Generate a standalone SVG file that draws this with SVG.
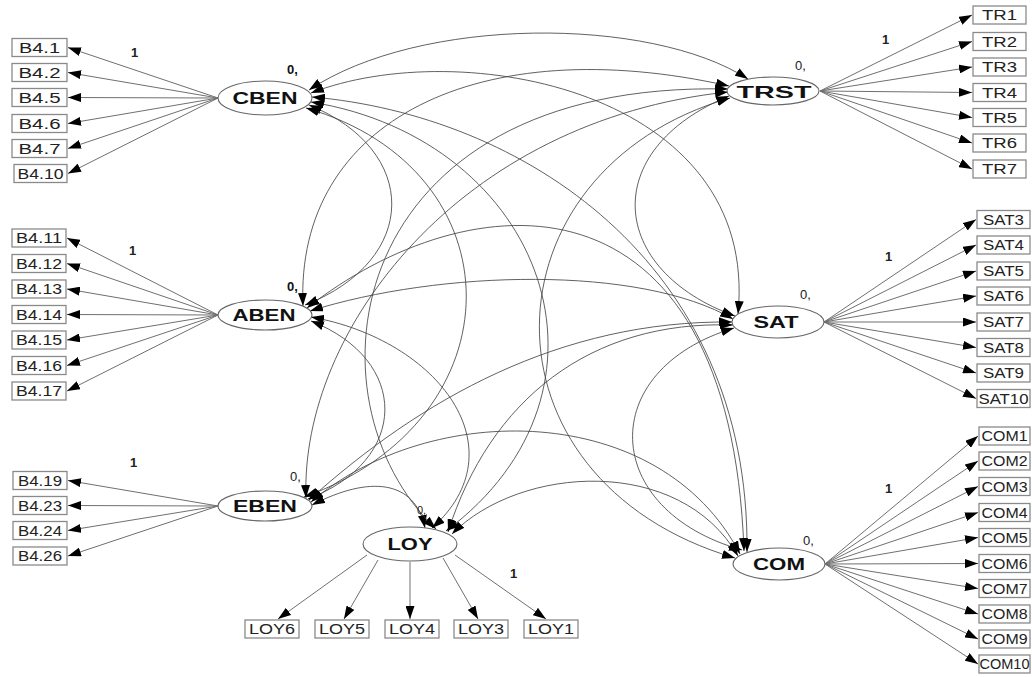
<svg xmlns="http://www.w3.org/2000/svg" width="1032" height="677" viewBox="0 0 1032 677">
<style>
.box{fill:#fff;stroke:#8a8a8a;stroke-width:1.3}
.bt{font-family:"Liberation Sans",Arial,sans-serif;font-size:14px;fill:#222;text-anchor:middle}
.lat{fill:#fff;stroke:#666;stroke-width:1.1}
.lt{font-family:"Liberation Sans",Arial,sans-serif;font-size:16.5px;font-weight:bold;fill:#111;text-anchor:middle}
.ld{fill:none;stroke:#707070;stroke-width:1;marker-end:url(#ah)}
.cov{fill:none;stroke:#444;stroke-width:0.85;marker-start:url(#ah);marker-end:url(#ah)}
.one{font-family:"Liberation Sans",Arial,sans-serif;font-size:13px;font-weight:bold;fill:#222}
.zr{font-family:"Liberation Sans",Arial,sans-serif;font-size:13px;fill:#222}
.zb{font-family:"Liberation Sans",Arial,sans-serif;font-size:13px;font-weight:bold;fill:#111}
</style>
<defs>
<marker id="ah" viewBox="0 0 13 9" refX="13" refY="4.5" markerWidth="13" markerHeight="9" markerUnits="userSpaceOnUse" orient="auto-start-reverse">
<path d="M0,0 L13,4.5 L0,9 z" fill="#000"/>
</marker>
</defs>
<rect width="1032" height="677" fill="#fff"/>

<g id="loadings">
<line class="ld" x1="218" y1="98" x2="68" y2="47.5"/>
<line class="ld" x1="218" y1="98" x2="68" y2="72.5"/>
<line class="ld" x1="218" y1="98" x2="68" y2="97.5"/>
<line class="ld" x1="218" y1="98" x2="68" y2="123.5"/>
<line class="ld" x1="218" y1="98" x2="68" y2="148.5"/>
<line class="ld" x1="218" y1="98" x2="68" y2="173.5"/>

<line class="ld" x1="218" y1="315" x2="67" y2="238"/>
<line class="ld" x1="218" y1="315" x2="67" y2="263.5"/>
<line class="ld" x1="218" y1="315" x2="67" y2="289"/>
<line class="ld" x1="218" y1="315" x2="67" y2="314.5"/>
<line class="ld" x1="218" y1="315" x2="67" y2="340"/>
<line class="ld" x1="218" y1="315" x2="67" y2="365.5"/>
<line class="ld" x1="218" y1="315" x2="67" y2="391"/>

<line class="ld" x1="218" y1="506" x2="68" y2="480.5"/>
<line class="ld" x1="218" y1="506" x2="68" y2="505.5"/>
<line class="ld" x1="218" y1="506" x2="68" y2="530.5"/>
<line class="ld" x1="218" y1="506" x2="68" y2="556"/>

<line class="ld" x1="820" y1="91" x2="972" y2="15"/>
<line class="ld" x1="820" y1="91" x2="972" y2="41.5"/>
<line class="ld" x1="820" y1="91" x2="972" y2="67"/>
<line class="ld" x1="820" y1="91" x2="972" y2="92.5"/>
<line class="ld" x1="820" y1="91" x2="972" y2="117.5"/>
<line class="ld" x1="820" y1="91" x2="972" y2="143"/>
<line class="ld" x1="820" y1="91" x2="972" y2="169"/>

<line class="ld" x1="824" y1="322" x2="976" y2="219.5"/>
<line class="ld" x1="824" y1="322" x2="976" y2="245"/>
<line class="ld" x1="824" y1="322" x2="976" y2="271"/>
<line class="ld" x1="824" y1="322" x2="976" y2="296"/>
<line class="ld" x1="824" y1="322" x2="976" y2="322"/>
<line class="ld" x1="824" y1="322" x2="976" y2="347.5"/>
<line class="ld" x1="824" y1="322" x2="976" y2="373"/>
<line class="ld" x1="824" y1="322" x2="976" y2="398.5"/>

<line class="ld" x1="825" y1="564" x2="978" y2="436"/>
<line class="ld" x1="825" y1="564" x2="978" y2="461"/>
<line class="ld" x1="825" y1="564" x2="978" y2="486.5"/>
<line class="ld" x1="825" y1="564" x2="978" y2="512.5"/>
<line class="ld" x1="825" y1="564" x2="978" y2="537.5"/>
<line class="ld" x1="825" y1="564" x2="978" y2="563.5"/>
<line class="ld" x1="825" y1="564" x2="978" y2="588.5"/>
<line class="ld" x1="825" y1="564" x2="978" y2="614"/>
<line class="ld" x1="825" y1="564" x2="978" y2="639"/>
<line class="ld" x1="825" y1="564" x2="978" y2="664"/>

<line class="ld" x1="367" y1="555" x2="278" y2="619"/>
<line class="ld" x1="378" y1="560" x2="344" y2="619"/>
<line class="ld" x1="410" y1="562" x2="410" y2="619"/>
<line class="ld" x1="443" y1="558" x2="478" y2="619"/>
<line class="ld" x1="455" y1="555" x2="546" y2="619"/>
</g>

<g id="covariances">
<path class="cov" d="M309,90 C420,16 650,16 748,79"/>
<path class="cov" d="M311,93 C460,35 760,90 738,314"/>
<path class="cov" d="M312,97 C520,115 750,260 747,552"/>
<path class="cov" d="M311,102 C545,140 635,390 446,531"/>
<path class="cov" d="M309,105 C420,150 420,260 305,305"/>
<path class="cov" d="M306,108 C520,170 520,420 304,497"/>
<path class="cov" d="M311,321 C410,360 410,460 308,499"/>
<path class="cov" d="M303,306 C295,120 480,30 729,86"/>
<path class="cov" d="M310,311 C440,270 640,265 733,319"/>
<path class="cov" d="M307,308 C470,180 730,160 744,551"/>
<path class="cov" d="M311,317 C440,340 520,450 432,528"/>
<path class="cov" d="M306,498 C300,330 460,120 728,92"/>
<path class="cov" d="M309,500 C420,400 560,320 732,322"/>
<path class="cov" d="M311,502 C430,400 660,400 740,554"/>
<path class="cov" d="M312,505 C370,475 415,480 425,528"/>
<path class="cov" d="M436,529 C300,400 340,80 728,89"/>
<path class="cov" d="M448,532 C490,400 590,320 733,325"/>
<path class="cov" d="M452,534 C520,465 680,455 738,556"/>
<path class="cov" d="M729,96 C598,150 608,270 735,316"/>
<path class="cov" d="M730,98 C480,170 470,480 735,558"/>
<path class="cov" d="M734,328 C595,370 600,510 742,550"/>
</g>

<g id="CBEN">
<ellipse class="lat" cx="265" cy="98" rx="47" ry="17"/>
<text class="lt" x="265" y="104" textLength="65" lengthAdjust="spacingAndGlyphs">CBEN</text>
<text class="zb" x="287" y="74">0,</text>
<text class="one" x="131" y="57">1</text>
</g>
<g id="ABEN">
<ellipse class="lat" cx="265" cy="315" rx="47" ry="15"/>
<text class="lt" x="264" y="321" textLength="63" lengthAdjust="spacingAndGlyphs">ABEN</text>
<text class="zb" x="287" y="291">0,</text>
<text class="one" x="129" y="255">1</text>
</g>
<g id="EBEN">
<ellipse class="lat" cx="265" cy="506" rx="47" ry="15"/>
<text class="lt" x="265" y="512" textLength="64" lengthAdjust="spacingAndGlyphs">EBEN</text>
<text class="zr" x="290" y="481">0,</text>
<text class="one" x="130" y="467">1</text>
</g>
<g id="LOY">
<ellipse class="lat" cx="410" cy="544" rx="47" ry="17"/>
<text class="lt" x="410" y="550" textLength="45" lengthAdjust="spacingAndGlyphs">LOY</text>
<text class="zr" x="417" y="514" style="font-size:11px">0,</text>
<text class="one" x="510" y="578">1</text>
</g>
<g id="TRST">
<ellipse class="lat" cx="773" cy="91" rx="46" ry="14"/>
<text class="lt" x="774" y="98" textLength="75" lengthAdjust="spacingAndGlyphs">TRST</text>
<text class="zr" x="795" y="70">0,</text>
<text class="one" x="882" y="44">1</text>
</g>
<g id="SAT">
<ellipse class="lat" cx="778" cy="322" rx="46" ry="16"/>
<text class="lt" x="776" y="328" textLength="45" lengthAdjust="spacingAndGlyphs">SAT</text>
<text class="zr" x="800" y="299">0,</text>
<text class="one" x="885" y="261">1</text>
</g>
<g id="COM">
<ellipse class="lat" cx="779" cy="564" rx="46" ry="16"/>
<text class="lt" x="779" y="570" textLength="52" lengthAdjust="spacingAndGlyphs">COM</text>
<text class="zr" x="803" y="545">0,</text>
<text class="one" x="885" y="493">1</text>
</g>

<g id="B4_1"><rect class="box" x="12" y="38.5" width="55" height="18"/><text class="bt" x="39.5" y="52.5" textLength="41" lengthAdjust="spacingAndGlyphs">B4.1</text></g>
<g id="B4_2"><rect class="box" x="12" y="63.5" width="55" height="18"/><text class="bt" x="39.5" y="77.5" textLength="42" lengthAdjust="spacingAndGlyphs">B4.2</text></g>
<g id="B4_5"><rect class="box" x="12" y="88.5" width="55" height="18"/><text class="bt" x="39.5" y="102.5" textLength="42" lengthAdjust="spacingAndGlyphs">B4.5</text></g>
<g id="B4_6"><rect class="box" x="12" y="114.5" width="55" height="18"/><text class="bt" x="39.5" y="128.5" textLength="42" lengthAdjust="spacingAndGlyphs">B4.6</text></g>
<g id="B4_7"><rect class="box" x="12" y="139.5" width="55" height="18"/><text class="bt" x="39.5" y="153.5" textLength="42" lengthAdjust="spacingAndGlyphs">B4.7</text></g>
<g id="B4_10"><rect class="box" x="14" y="164.5" width="53" height="18"/><text class="bt" x="40.5" y="178.5" textLength="46" lengthAdjust="spacingAndGlyphs">B4.10</text></g>

<g id="B4_11"><rect class="box" x="12" y="229" width="54" height="18"/><text class="bt" x="39" y="243" textLength="46" lengthAdjust="spacingAndGlyphs">B4.11</text></g>
<g id="B4_12"><rect class="box" x="12" y="254.5" width="54" height="18"/><text class="bt" x="39" y="268.5" textLength="46" lengthAdjust="spacingAndGlyphs">B4.12</text></g>
<g id="B4_13"><rect class="box" x="12" y="280" width="54" height="18"/><text class="bt" x="39" y="294" textLength="46" lengthAdjust="spacingAndGlyphs">B4.13</text></g>
<g id="B4_14"><rect class="box" x="12" y="305.5" width="54" height="18"/><text class="bt" x="39" y="319.5" textLength="46" lengthAdjust="spacingAndGlyphs">B4.14</text></g>
<g id="B4_15"><rect class="box" x="12" y="331" width="54" height="18"/><text class="bt" x="39" y="345" textLength="46" lengthAdjust="spacingAndGlyphs">B4.15</text></g>
<g id="B4_16"><rect class="box" x="12" y="356.5" width="54" height="18"/><text class="bt" x="39" y="370.5" textLength="46" lengthAdjust="spacingAndGlyphs">B4.16</text></g>
<g id="B4_17"><rect class="box" x="12" y="382" width="54" height="18"/><text class="bt" x="39" y="396" textLength="46" lengthAdjust="spacingAndGlyphs">B4.17</text></g>

<g id="B4_19"><rect class="box" x="13" y="471.5" width="54" height="18"/><text class="bt" x="40" y="485.5" textLength="44" lengthAdjust="spacingAndGlyphs">B4.19</text></g>
<g id="B4_23"><rect class="box" x="13" y="496.5" width="54" height="18"/><text class="bt" x="40" y="510.5" textLength="44" lengthAdjust="spacingAndGlyphs">B4.23</text></g>
<g id="B4_24"><rect class="box" x="13" y="521.5" width="54" height="18"/><text class="bt" x="40" y="535.5" textLength="44" lengthAdjust="spacingAndGlyphs">B4.24</text></g>
<g id="B4_26"><rect class="box" x="13" y="547" width="54" height="18"/><text class="bt" x="40" y="561" textLength="44" lengthAdjust="spacingAndGlyphs">B4.26</text></g>

<g id="TR1"><rect class="box" x="973" y="6" width="53" height="18"/><text class="bt" x="999.5" y="20" textLength="35" lengthAdjust="spacingAndGlyphs">TR1</text></g>
<g id="TR2"><rect class="box" x="973" y="32.5" width="53" height="18"/><text class="bt" x="999.5" y="46.5" textLength="35" lengthAdjust="spacingAndGlyphs">TR2</text></g>
<g id="TR3"><rect class="box" x="973" y="58" width="53" height="18"/><text class="bt" x="999.5" y="72" textLength="35" lengthAdjust="spacingAndGlyphs">TR3</text></g>
<g id="TR4"><rect class="box" x="973" y="83.5" width="53" height="18"/><text class="bt" x="999.5" y="97.5" textLength="35" lengthAdjust="spacingAndGlyphs">TR4</text></g>
<g id="TR5"><rect class="box" x="973" y="108.5" width="53" height="18"/><text class="bt" x="999.5" y="122.5" textLength="35" lengthAdjust="spacingAndGlyphs">TR5</text></g>
<g id="TR6"><rect class="box" x="973" y="134" width="53" height="18"/><text class="bt" x="999.5" y="148" textLength="35" lengthAdjust="spacingAndGlyphs">TR6</text></g>
<g id="TR7"><rect class="box" x="973" y="160" width="53" height="18"/><text class="bt" x="999.5" y="174" textLength="35" lengthAdjust="spacingAndGlyphs">TR7</text></g>

<g id="SAT3"><rect class="box" x="977" y="210.5" width="53" height="18"/><text class="bt" x="1003.5" y="224.5" textLength="41" lengthAdjust="spacingAndGlyphs">SAT3</text></g>
<g id="SAT4"><rect class="box" x="977" y="236" width="53" height="18"/><text class="bt" x="1003.5" y="250" textLength="41" lengthAdjust="spacingAndGlyphs">SAT4</text></g>
<g id="SAT5"><rect class="box" x="977" y="262" width="53" height="18"/><text class="bt" x="1003.5" y="276" textLength="41" lengthAdjust="spacingAndGlyphs">SAT5</text></g>
<g id="SAT6"><rect class="box" x="977" y="287" width="53" height="18"/><text class="bt" x="1003.5" y="301" textLength="41" lengthAdjust="spacingAndGlyphs">SAT6</text></g>
<g id="SAT7"><rect class="box" x="977" y="313" width="53" height="18"/><text class="bt" x="1003.5" y="327" textLength="41" lengthAdjust="spacingAndGlyphs">SAT7</text></g>
<g id="SAT8"><rect class="box" x="977" y="338.5" width="53" height="18"/><text class="bt" x="1003.5" y="352.5" textLength="41" lengthAdjust="spacingAndGlyphs">SAT8</text></g>
<g id="SAT9"><rect class="box" x="977" y="364" width="53" height="18"/><text class="bt" x="1003.5" y="378" textLength="41" lengthAdjust="spacingAndGlyphs">SAT9</text></g>
<g id="SAT10"><rect class="box" x="977" y="389.5" width="53" height="18"/><text class="bt" x="1003.5" y="403.5" textLength="50" lengthAdjust="spacingAndGlyphs">SAT10</text></g>

<g id="COM1"><rect class="box" x="979" y="427" width="51" height="18"/><text class="bt" x="1004.5" y="441" textLength="46" lengthAdjust="spacingAndGlyphs">COM1</text></g>
<g id="COM2"><rect class="box" x="979" y="452" width="51" height="18"/><text class="bt" x="1004.5" y="466" textLength="46" lengthAdjust="spacingAndGlyphs">COM2</text></g>
<g id="COM3"><rect class="box" x="979" y="477.5" width="51" height="18"/><text class="bt" x="1004.5" y="491.5" textLength="46" lengthAdjust="spacingAndGlyphs">COM3</text></g>
<g id="COM4"><rect class="box" x="979" y="503.5" width="51" height="18"/><text class="bt" x="1004.5" y="517.5" textLength="46" lengthAdjust="spacingAndGlyphs">COM4</text></g>
<g id="COM5"><rect class="box" x="979" y="528.5" width="51" height="18"/><text class="bt" x="1004.5" y="542.5" textLength="46" lengthAdjust="spacingAndGlyphs">COM5</text></g>
<g id="COM6"><rect class="box" x="979" y="554.5" width="51" height="18"/><text class="bt" x="1004.5" y="568.5" textLength="46" lengthAdjust="spacingAndGlyphs">COM6</text></g>
<g id="COM7"><rect class="box" x="979" y="579.5" width="51" height="18"/><text class="bt" x="1004.5" y="593.5" textLength="46" lengthAdjust="spacingAndGlyphs">COM7</text></g>
<g id="COM8"><rect class="box" x="979" y="605" width="51" height="18"/><text class="bt" x="1004.5" y="619" textLength="46" lengthAdjust="spacingAndGlyphs">COM8</text></g>
<g id="COM9"><rect class="box" x="979" y="630" width="51" height="18"/><text class="bt" x="1004.5" y="644" textLength="46" lengthAdjust="spacingAndGlyphs">COM9</text></g>
<g id="COM10"><rect class="box" x="979" y="655" width="51" height="18"/><text class="bt" x="1004.5" y="669" textLength="50" lengthAdjust="spacingAndGlyphs">COM10</text></g>

<g id="LOY6"><rect class="box" x="245" y="620" width="54" height="18"/><text class="bt" x="272" y="634" textLength="46" lengthAdjust="spacingAndGlyphs">LOY6</text></g>
<g id="LOY5"><rect class="box" x="315" y="620" width="54" height="18"/><text class="bt" x="342" y="634" textLength="46" lengthAdjust="spacingAndGlyphs">LOY5</text></g>
<g id="LOY4"><rect class="box" x="385" y="620" width="54" height="18"/><text class="bt" x="412" y="634" textLength="46" lengthAdjust="spacingAndGlyphs">LOY4</text></g>
<g id="LOY3"><rect class="box" x="454" y="620" width="54" height="18"/><text class="bt" x="481" y="634" textLength="46" lengthAdjust="spacingAndGlyphs">LOY3</text></g>
<g id="LOY1"><rect class="box" x="524" y="620" width="54" height="18"/><text class="bt" x="551" y="634" textLength="46" lengthAdjust="spacingAndGlyphs">LOY1</text></g>
</svg>
